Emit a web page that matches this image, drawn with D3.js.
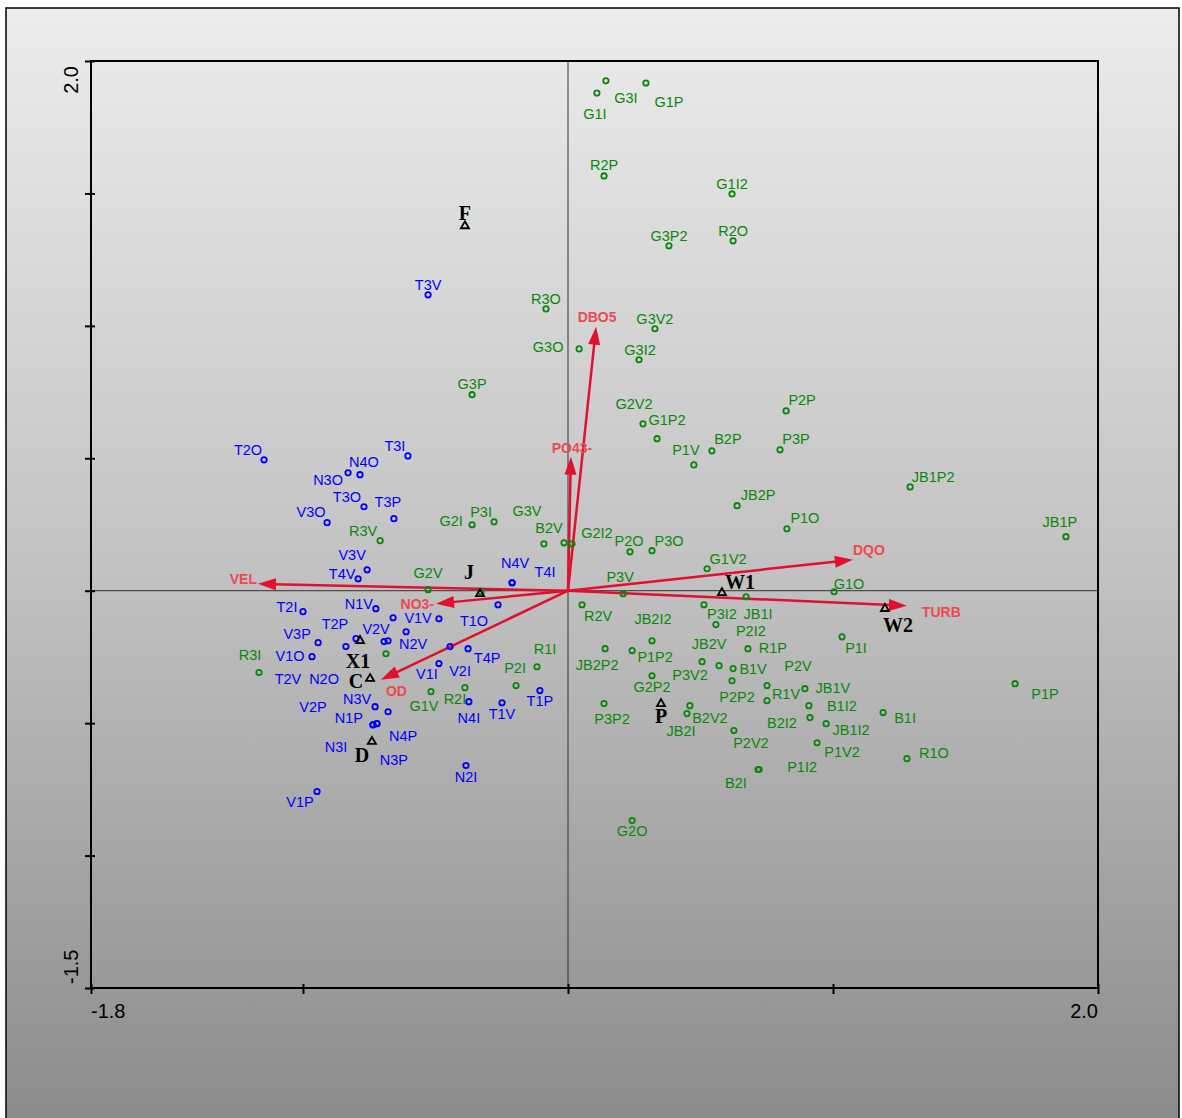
<!DOCTYPE html>
<html>
<head>
<meta charset="utf-8">
<script src="https://cdn.jsdelivr.net/npm/d3@7"></script>
<style>
	html, body { margin: 0; padding: 0; background: #fff; }
	svg { display: block; }
</style>
</head>
<body>
<div id="chart"></div>
<script>
// sample scores, group 1 (green)
const greenNames = ['G1I', 'G3I', 'G1P', 'R2P', 'G1I2', 'G3P2', 'R2O', 'R3O', 'G3V2', 'G3O', 'G3I2', 'G3P',
	'G2V2', 'G1P2', 'P1V', 'B2P', 'P2P', 'P3P', 'JB1P2', 'JB2P', 'P1O', 'JB1P', 'G2I', 'P3I', 'G3V', 'B2V',
	'G2I2', 'P2O', 'P3O', 'G1V2', 'R3V', 'G2V', '', 'P3V', 'JB1I', 'G1O', 'R2V', 'P3I2', 'P2I2', 'JB2I2',
	'JB2P2', 'P1P2', 'JB2V', 'P3V2', 'R1P', 'B1V', 'G2P2', 'P2P2', 'P3P2', 'B2V2', 'JB2I', 'P2V2', 'B2I',
	'G2O', 'P2V', 'R1V', 'JB1V', 'B1I2', 'B2I2', 'JB1I2', 'P1V2', 'P1I2', 'B1I', 'R1O', 'P1P', 'P1I', 'R3I',
	'G1V', 'R2I', 'P2I', 'R1I', ''];
const greenX = [0.109, 0.143, 0.294, 0.136, 0.619, 0.381, 0.623, -0.083, 0.328, 0.042, 0.268, -0.362,
	0.283, 0.336, 0.475, 0.543, 0.823, 0.800, 1.291, 0.638, 0.826, 1.879, -0.362, -0.279, -0.091, -0.015,
	0.015, 0.234, 0.317, 0.525, -0.709, -0.528, -0.328, 0.208, 0.672, 1.004, 0.053, 0.513, 0.558, 0.317,
	0.140, 0.242, 0.506, 0.570, 0.679, 0.623, 0.317, 0.619, 0.136, 0.460, 0.449, 0.626, 0.717,
	0.242, 0.751, 0.751, 0.894, 0.909, 0.913, 0.974, 0.940, 0.721, 1.189, 1.279, 1.687, 1.034, -1.166,
	-0.517, -0.389, -0.196, -0.117, -0.687];
const greenY = [1.879, 1.925, 1.917, 1.566, 1.498, 1.302, 1.321, 1.064, 0.989, 0.913, 0.872, 0.740,
	0.630, 0.574, 0.475, 0.528, 0.679, 0.532, 0.392, 0.321, 0.234, 0.204, 0.249, 0.260, 0.177, 0.181,
	0.177, 0.147, 0.151, 0.083, 0.189, 0.004, -0.004, -0.011, -0.023, -0.004, -0.053, -0.053, -0.128, -0.189,
	-0.219, -0.226, -0.268, -0.283, -0.219, -0.294, -0.321, -0.340, -0.426, -0.434, -0.464, -0.528, -0.675,
	-0.868, -0.358, -0.415, -0.370, -0.434, -0.479, -0.502, -0.574, -0.675, -0.460, -0.634, -0.351, -0.174, -0.309,
	-0.381, -0.366, -0.358, -0.287, -0.238];

// sample scores, group 2 (blue)
const blueNames = ['T3V', 'T2O', 'T3I', 'N4O', 'N3O', 'T3O', 'T3P', 'V3O', 'V3V', 'T4V', 'N4V', 'T4I',
	'T1O', 'T2I', 'N1V', 'V1V', '', 'V2V', 'N2O', 'N2V', 'T2P', 'T2V', 'V3P', 'V1O', 'N3V', 'N4P', 'V2P',
	'N1P', 'N3I', 'N3P', 'V1P', 'T4P', 'V2I', 'V1I', 'N4I', 'T1V', 'T1P', 'N2I'];
const blueX = [-0.528, -1.147, -0.604, -0.785, -0.830, -0.770, -0.657, -0.909, -0.758, -0.792, -0.211, -0.211,
	-0.264, -1.000, -0.725, -0.660, -0.487, -0.694, -0.679, -0.611, -0.838, -0.800, -0.943, -0.966, -0.728, -0.679, -0.736,
	-0.721, -0.736, -0.721, -0.947, -0.377, -0.445, -0.487, -0.374, -0.249, -0.106, -0.385];
const blueY = [1.117, 0.494, 0.509, 0.438, 0.445, 0.317, 0.272, 0.257, 0.079, 0.045, 0.030, 0.030,
	-0.053, -0.079, -0.068, -0.102, -0.106, -0.192, -0.189, -0.155, -0.211, -0.181, -0.196, -0.249, -0.438, -0.457, -0.506,
	-0.502, -0.506, -0.502, -0.758, -0.219, -0.211, -0.275, -0.419, -0.423, -0.377, -0.660];

// environmental variables (arrow tips)
const envNames = ['DBO5', 'PO43-', 'DQO', 'TURB', 'VEL', 'NO3-', 'OD'];
const envX = [0.106, 0.011, 1.075, 1.279, -1.170, -0.498, -0.706];
const envY = [0.997, 0.506, 0.117, -0.057, 0.026, -0.049, -0.336];

// supplementary samples (triangles)
const supNames = ['F', 'J', 'W1', 'W2', 'X1', 'C', 'D', 'P'];
const supX = [-0.389, -0.332, 0.581, 1.196, -0.785, -0.747, -0.740, 0.351];
const supY = [1.381, -0.008, -0.004, -0.064, -0.185, -0.328, -0.566, -0.423];

// axis
const xTicks = [-1.8, -1.0, 0, 1.0, 2.0];
const yTicks = [2.0, 1.5, 1.0, 0.5, 0, -0.5, -1.0, -1.5];
const xDomain = [-1.8, 2.0];
const yDomain = [-1.5, 2.0];

// label placement (px offsets: label centre x, baseline y, relative to the point)
const labelNudge = {
	G1I: [-2, 26], G3I: [20, 22], G1P: [23, 24], R2P: [0, -6], G1I2: [0, -5], G3P2: [0, -5], R2O: [0, -5],
	R3O: [0, -5], G3V2: [0, -5], G3O: [-31, 3], G3I2: [1, -5], G3P: [0, -6], G2V2: [-9, -15], G1P2: [10, -14],
	P1V: [-8, -10], B2P: [16, -7], P2P: [16, -6], P3P: [16, -6], JB1P2: [23, -5], JB2P: [21, -6], P1O: [18, -6],
	JB1P: [-6, -10], G2I: [-21, 1], P3I: [-13, -5], G3V: [-17, -28], B2V: [-15, -10], G2I2: [25, -6],
	P2O: [-1, -6], P3O: [17, -5], G1V2: [21, -5], R3V: [-17, -5], G2V: [0, -12], P3V: [-3, -12], JB1I: [12, 22],
	G1O: [15, -3], R2V: [16, 16], P3I2: [18, 14], P2I2: [35, 11], JB2I2: [1, -17], JB2P2: [-8, 21],
	P1P2: [23, 11], JB2V: [7, -13], P3V2: [-29, 14], R1P: [25, 4], B1V: [20, 5], G2P2: [0, 16], P2P2: [5, 21],
	P3P2: [8, 20], B2V2: [20, 17], JB2I: [-6, 22], P2V2: [17, 17], B2I: [-22, 19], G2O: [0, 15], P2V: [31, -15],
	R1V: [19, -2], JB1V: [28, 4], B1I2: [33, 5], B2I2: [-28, 10], JB1I2: [25, 11], P1V2: [25, 14], P1I2: [43, 3],
	B1I: [22, 10], R1O: [27, -1], P1P: [30, 15], P1I: [14, 16], R3I: [-9, -13], G1V: [-7, 19], R2I: [-10, 16],
	P2I: [-1, -13], R1I: [8, -13],
	T3V: [0, -5], T2O: [-16, -5], T3I: [-13, -5], N4O: [4, -8], N3O: [-20, 12], T3O: [-17, -5], T3P: [-6, -12],
	V3O: [-16, -6], V3V: [-15, -10], T4V: [-16, 0], N4V: [3, -15], T4I: [33, -6], T1O: [-24, 21], T2I: [-16, 0],
	N1V: [-17, 0], V1V: [25, 5], V2V: [-8, -8], N2O: [-64, 43], N2V: [7, 17], T2P: [-11, -18], T2V: [-68, 45],
	V3P: [-21, -4], V1O: [-22, 4], N3V: [-18, -3], N4P: [15, 29], V2P: [-60, -13], N1P: [-28, -1], N3I: [-37, 27],
	N3P: [17, 41], V1P: [-17, 16], T4P: [19, 14], V2I: [10, 29], V1I: [-12, 15], N4I: [0, 21], T1V: [0, 16],
	T1P: [0, 15], N2I: [0, 16],
};
const envLabel = {
	'DBO5': ['middle', 1, -5], 'PO43-': ['middle', 1, -4], 'DQO': ['start', 0, -5], 'TURB': ['start', 15, 11],
	'VEL': ['end', -1, 0], 'NO3-': ['end', -2, 5], 'OD': ['start', 5, 16],
};
const supLabel = {
	F: [0, -5], J: [-11, -14], W1: [18, -3], W2: [13, 24], X1: [-2, 28], C: [-14, 10], D: [-10, 21], P: [0, 20],
};

const width = 1182;
const height = 1118;
const marginTop = 61;
const marginRight = 84;
const marginBottom = 130;
const marginLeft = 91;

const green = '#0a870a';
const blue = '#0000ff';
const red = '#e0102e';
const redText = '#ec4a52';

const xScale = d3.scaleLinear(xDomain, [marginLeft, width - marginRight]);
const yScale = d3.scaleLinear(yDomain, [height - marginBottom, marginTop]);

const svg = d3.select('#chart').append('svg')
	.attr('width', width)
	.attr('height', height)
	.attr('viewBox', [0, 0, width, height]);

const grad = svg.append('defs').append('linearGradient')
	.attr('id', 'bg')
	.attr('x1', 0).attr('y1', 0).attr('x2', 0).attr('y2', 1);
grad.append('stop').attr('offset', '0').attr('stop-color', '#ececec');
grad.append('stop').attr('offset', '0.5').attr('stop-color', '#c2c2c2');
grad.append('stop').attr('offset', '1').attr('stop-color', '#8b8b8b');

svg.append('rect')
	.attr('x', 6).attr('y', 8)
	.attr('width', width - 9).attr('height', height)
	.attr('fill', 'url(#bg)')
	.attr('stroke', '#000')
	.attr('stroke-width', 1.5);

// zero lines
svg.append('line')
	.attr('x1', xScale(0)).attr('x2', xScale(0))
	.attr('y1', marginTop).attr('y2', height - marginBottom)
	.attr('stroke', '#333').attr('stroke-width', 1);
svg.append('line')
	.attr('x1', marginLeft).attr('x2', width - marginRight)
	.attr('y1', yScale(0)).attr('y2', yScale(0))
	.attr('stroke', '#333').attr('stroke-width', 1);

// frame
svg.append('rect')
	.attr('x', marginLeft).attr('y', marginTop)
	.attr('width', width - marginLeft - marginRight)
	.attr('height', height - marginTop - marginBottom)
	.attr('fill', 'none')
	.attr('stroke', '#000')
	.attr('stroke-width', 2);

const xAxis = d3.axisBottom(xScale).tickValues(xTicks).tickSize(6).tickFormat(() => '');
const yAxis = d3.axisLeft(yScale).tickValues(yTicks).tickSize(6).tickFormat(() => '');

svg.append('g')
	.attr('transform', `translate(0,${height - marginBottom})`)
	.call(xAxis)
	.call(g => g.select('.domain').remove())
	.call(g => g.selectAll('.tick line').attr('y1', -4).attr('stroke-width', 2));

svg.append('g')
	.attr('transform', `translate(${marginLeft},0)`)
	.call(yAxis)
	.call(g => g.select('.domain').remove())
	.call(g => g.selectAll('.tick line').attr('x1', 4).attr('stroke-width', 2));

const axisFont = '"Liberation Sans", Arial, sans-serif';
const fmt = d3.formatLocale({ decimal: '.', thousands: ',', grouping: [3], currency: ['', ''], minus: '-' }).format('.1f');

svg.append('text')
	.attr('x', xScale(xDomain[0])).attr('y', height - marginBottom + 30)
	.attr('font-family', axisFont).attr('font-size', 20)
	.attr('text-anchor', 'start')
	.text(fmt(xDomain[0]));
svg.append('text')
	.attr('x', xScale(xDomain[1])).attr('y', height - marginBottom + 30)
	.attr('font-family', axisFont).attr('font-size', 20)
	.attr('text-anchor', 'end')
	.text(fmt(xDomain[1]));
svg.append('text')
	.attr('transform', `translate(${marginLeft - 13},${yScale(yDomain[1]) + 5}) rotate(-90)`)
	.attr('font-family', axisFont).attr('font-size', 20)
	.attr('text-anchor', 'end')
	.text(fmt(yDomain[1]));
svg.append('text')
	.attr('transform', `translate(${marginLeft - 13},${yScale(yDomain[0]) - 4}) rotate(-90)`)
	.attr('font-family', axisFont).attr('font-size', 20)
	.attr('text-anchor', 'start')
	.text(fmt(yDomain[0]));

// environmental arrows
const ox = xScale(0);
const oy = yScale(0);
const arrows = svg.append('g');
envNames.forEach((name, i) => {
	const tx = xScale(envX[i]);
	const ty = yScale(envY[i]);
	const len = Math.hypot(tx - ox, ty - oy);
	const ux = (tx - ox) / len;
	const uy = (ty - oy) / len;
	const bx = tx - ux * 18;
	const by = ty - uy * 18;
	arrows.append('line')
		.attr('x1', ox).attr('y1', oy)
		.attr('x2', bx + ux * 2).attr('y2', by + uy * 2)
		.attr('stroke', red)
		.attr('stroke-width', 2.5);
	arrows.append('path')
		.attr('d', `M${tx},${ty}L${bx - uy * 6},${by + ux * 6}L${bx + uy * 6},${by - ux * 6}Z`)
		.attr('fill', red);
	const [anchor, dx, dy] = envLabel[name];
	arrows.append('text')
		.attr('x', tx + dx).attr('y', ty + dy)
		.attr('text-anchor', anchor)
		.attr('font-family', axisFont)
		.attr('font-size', 14)
		.attr('font-weight', 'bold')
		.attr('fill', redText)
		.text(name);
});

// sample points
function drawSamples(names, xs, ys, color) {
	const g = svg.append('g');
	names.forEach((name, i) => {
		const px = xScale(xs[i]);
		const py = yScale(ys[i]);
		g.append('circle')
			.attr('cx', px).attr('cy', py).attr('r', 2.7)
			.attr('fill', 'none')
			.attr('stroke', color)
			.attr('stroke-width', 1.8);
		if (!name) {
			return;
		}
		const [dx, dy] = labelNudge[name] || [0, -5];
		g.append('text')
			.attr('x', px + dx).attr('y', py + dy)
			.attr('text-anchor', 'middle')
			.attr('font-family', axisFont)
			.attr('font-size', 14.5)
			.attr('fill', color)
			.text(name);
	});
}
drawSamples(greenNames, greenX, greenY, green);
drawSamples(blueNames, blueX, blueY, blue);

// supplementary samples
const sup = svg.append('g');
supNames.forEach((name, i) => {
	const px = xScale(supX[i]);
	const py = yScale(supY[i]);
	sup.append('path')
		.attr('transform', `translate(${px},${py + 1})`)
		.attr('d', d3.symbol(d3.symbolTriangle, 28)())
		.attr('fill', 'none')
		.attr('stroke', '#000')
		.attr('stroke-width', 1.8);
	const [dx, dy] = supLabel[name];
	sup.append('text')
		.attr('x', px + dx).attr('y', py + dy)
		.attr('text-anchor', 'middle')
		.attr('font-family', '"Liberation Serif", "Times New Roman", serif')
		.attr('font-size', 20)
		.attr('font-weight', 'bold')
		.attr('fill', '#000')
		.text(name);
});
</script>
</body>
</html>
